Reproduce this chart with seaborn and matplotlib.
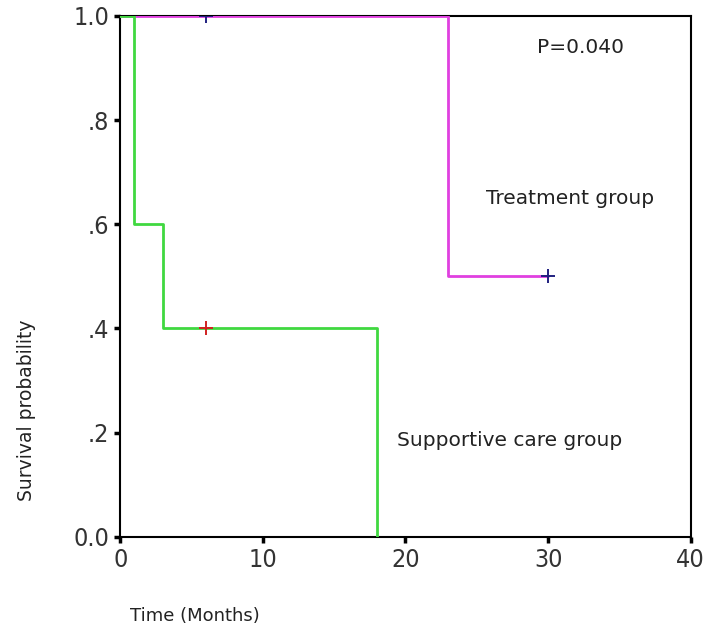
import matplotlib
matplotlib.use("Agg")
import matplotlib.pyplot as plt
import seaborn as sns
import pandas as pd

# Kaplan-Meier step data
treat_time = [0, 23, 30]
treat_surv = [1.0, 0.5, 0.5]
supp_time = [0, 1, 3, 18]
supp_surv = [1.0, 0.6, 0.4, 0.0]

# censored observations
treat_cens_time = [6, 30]
treat_cens_surv = [1.0, 0.5]
supp_cens_time = [6]
supp_cens_surv = [0.4]

x_ticks = [0, 10, 20, 30, 40]
y_ticks = [0.0, 0.2, 0.4, 0.6, 0.8, 1.0]
y_ticklabels = ["0.0", ".2", ".4", ".6", ".8", "1.0"]

sns.set_style("white")
plt.rcParams['font.family'] = ['DejaVu Sans']

fig = plt.figure(figsize=(7.07, 6.33), dpi=100)
ax = fig.add_axes([0.170, 0.152, 0.807, 0.823])

df_t = pd.DataFrame({"t": treat_time, "s": treat_surv})
df_s = pd.DataFrame({"t": supp_time, "s": supp_surv})
sns.lineplot(data=df_t, x="t", y="s", drawstyle="steps-post", estimator=None,
             color="#E040E0", linewidth=2.0, ax=ax, zorder=3)
sns.lineplot(data=df_s, x="t", y="s", drawstyle="steps-post", estimator=None,
             color="#40D840", linewidth=2.0, ax=ax, zorder=3)

sns.scatterplot(x=treat_cens_time, y=treat_cens_surv, marker="+", s=90,
                color="#202080", linewidth=1.4, ax=ax, zorder=4)
sns.scatterplot(x=supp_cens_time, y=supp_cens_surv, marker="+", s=90,
                color="#D02020", linewidth=1.4, ax=ax, zorder=4)

ax.set_xlim(0, 40)
ax.set_ylim(0, 1.0)
ax.set_xticks(x_ticks)
ax.set_yticks(y_ticks)
ax.set_yticklabels(y_ticklabels)

for lab in ax.get_xticklabels() + ax.get_yticklabels():
    lab.set_fontsize(18)
    lab.set_color("#333333")
    lab.set_stretch("condensed")

ax.tick_params(axis="both", direction="out", length=4, width=2.5, color="black",
               bottom=True, left=True, pad=4)

for sp in ax.spines.values():
    sp.set_visible(True)
    sp.set_color("black")
    sp.set_linewidth(1.5)

ax.set_xlabel("Time (Months)", fontsize=13, color="#222222")
ax.set_ylabel("Survival probability", fontsize=13.5, color="#222222")
ax.xaxis.set_label_coords(0.131, -0.135)
ax.yaxis.set_label_coords(-0.148, 0.242)

ax.text(0.806, 0.94, "P=0.040", transform=ax.transAxes, fontsize=14.5,
        ha="center", va="center", color="#222222")
ax.text(0.788, 0.649, "Treatment group", transform=ax.transAxes, fontsize=14.5,
        ha="center", va="center", color="#222222")
ax.text(0.683, 0.185, "Supportive care group", transform=ax.transAxes, fontsize=14.5,
        ha="center", va="center", color="#222222")

fig.savefig("out.png", dpi=100)
